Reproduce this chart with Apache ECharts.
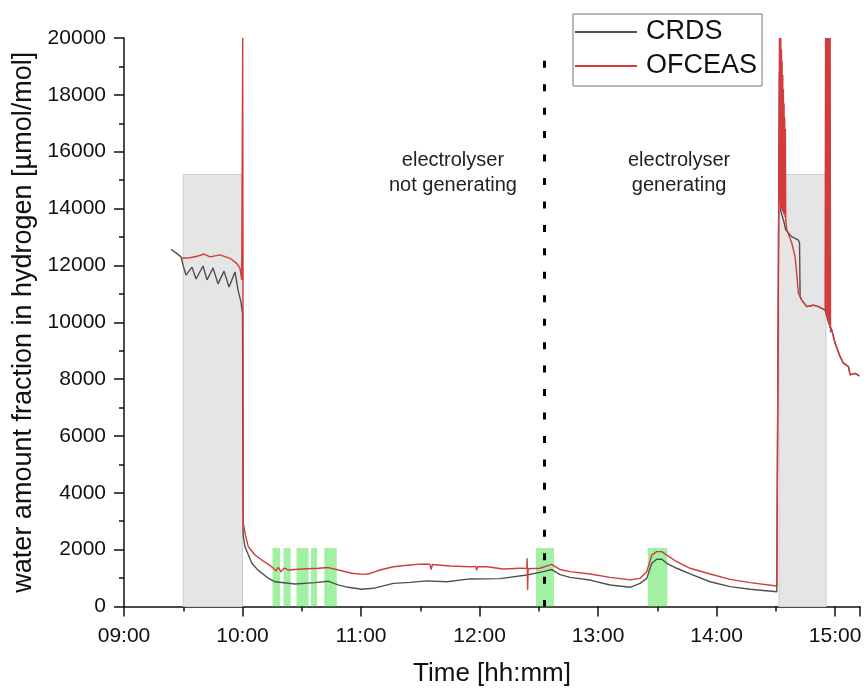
<!DOCTYPE html>
<html>
<head>
<meta charset="utf-8">
<script src="https://cdn.jsdelivr.net/npm/echarts@6/dist/echarts.min.js"></script>
<style>
html,body{margin:0;padding:0;background:#fff;}
#chart{width:866px;height:688px;}
</style>
</head>
<body>
<div id="chart"></div>
<script>
// ---- data ----
const xTickLabels = ['09:00','10:00','11:00','12:00','13:00','14:00','15:00'];

const crdsTimes = ['09:23:48','09:26:20','09:28:52','09:29:52','09:31:24','09:34:26','09:36:28','09:40:00','09:42:02','09:45:04','09:47:36','09:50:38','09:53:10','09:56:12','09:57:44','09:59:14','10:00:00','10:00:20','10:01:15','10:04:40','10:07:50','10:12:55','10:16:30','10:26:35','10:36:42','10:43:18','10:48:22','10:53:25','11:00:21','11:06:14','11:16:22','11:24:49','11:33:16','11:43:24','11:55:12','12:10:23','12:23:54','12:32:18','12:36:33','12:40:46','12:45:50','12:55:57','13:06:05','13:16:12','13:21:16','13:24:39','13:27:11','13:29:43','13:32:15','13:34:47','13:39:51','13:46:35','13:56:42','14:06:50','14:16:58','14:30:29','14:31:24','14:31:48','14:32:30','14:33:50','14:35:00','14:38:00','14:41:25','14:42:00','14:42:17','14:43:08','14:45:40','14:49:01','14:51:34','14:54:56','14:56:37','14:58:18','15:00:00','15:02:32','15:04:13','15:06:45','15:07:36','15:10:08','15:12:18'];
const crdsValues = [12570,12440,12300,12010,11660,11940,11520,11980,11490,11910,11350,11800,11240,11770,11130,10710,10300,2500,2100,1530,1280,1000,870,790,840,890,760,675,605,640,815,850,900,870,970,980,1110,1225,1300,1120,1025,930,755,675,815,990,1520,1660,1660,1520,1345,1145,870,700,605,520,520,18800,13900,13600,13250,13010,12890,12780,10900,10780,10550,10600,10550,10430,10000,9730,9260,8790,8560,8440,8150,8200,8110];

const ofceasTimes = ['09:29:13','09:33:25','09:37:00','09:40:30','09:43:33','09:48:36','09:53:40','09:57:04','09:58:44','09:59:35','10:00:06','10:00:24','10:01:00','10:01:31','10:02:56','10:06:20','10:09:43','10:14:47','10:17:00','10:18:08','10:19:30','10:21:00','10:23:11','10:30:00','10:38:25','10:43:26','10:48:30','10:55:18','11:01:10','11:04:00','11:09:37','11:16:22','11:24:49','11:29:53','11:34:56','11:35:30','11:36:10','11:45:04','11:55:12','11:58:00','11:58:30','11:59:00','12:03:39','12:12:03','12:20:30','12:23:54','12:24:05','12:24:20','12:24:35','12:30:38','12:36:33','12:40:46','12:45:50','12:55:57','13:06:05','13:16:12','13:21:16','13:24:39','13:27:11','13:29:43','13:32:15','13:34:47','13:39:51','13:46:35','13:56:42','14:06:50','14:16:58','14:30:29','14:31:24',
  '14:31:50','14:32:00','14:32:10','14:32:20','14:32:30','14:32:40','14:32:50','14:33:00','14:33:10','14:33:20','14:33:30','14:33:40','14:33:50','14:34:00','14:34:10','14:34:20','14:34:30','14:34:40','14:34:50','14:35:00',
  '14:35:32','14:38:05','14:39:43','14:40:34','14:41:25','14:43:08','14:45:40','14:49:01','14:51:34','14:54:56',
  '14:55:10','14:55:20','14:55:30','14:55:40','14:55:50','14:56:00','14:56:10','14:56:20','14:56:30','14:56:40','14:56:50','14:57:00','14:57:10','14:57:20','14:57:30','14:57:40',
  '14:58:18','15:00:00','15:02:32','15:04:13','15:06:45','15:07:36','15:10:08','15:12:18'];
const ofceasValues = [12250,12270,12320,12400,12300,12370,12250,12070,11900,11490,20000,2900,2700,2500,2100,1810,1635,1400,1250,1380,1220,1350,1285,1320,1345,1370,1285,1170,1130,1150,1285,1400,1460,1490,1485,1300,1480,1425,1400,1410,1270,1400,1400,1320,1345,1340,1700,580,1330,1345,1480,1300,1225,1145,1025,935,990,1225,1810,1930,1930,1810,1575,1345,1145,955,840,720,720,
  20000,14200,20000,14100,20000,14000,19600,14000,19200,13900,18700,13900,18200,13800,17700,13800,17200,13700,16800,13600,
  13250,12780,12310,11720,11020,10780,10550,10600,10550,10430,
  20000,10400,20000,10300,20000,10200,20000,10100,20000,10000,20000,9900,20000,9800,20000,9650,
  9730,9260,8790,8560,8440,8150,8200,8110];

// shaded (grey) periods: [start, end], top value
const greyPeriods = [['09:30:00','10:00:00'],['14:31:36','14:55:25']];
const greyTop = 15200;
// green marked periods: [start, end]
const greenPeriods = [['10:15:11','10:19:00'],['10:20:46','10:24:24'],['10:27:20','10:33:25'],['10:34:41','10:37:43'],['10:41:25','10:47:42'],['12:28:35','12:37:42'],['13:25:10','13:35:05']];
const greenTop = 2060;
// dotted marker for the change of electrolyser state
const stateChange = '12:32:50';
const stateChangeTop = 19200;
const annotations = ['electrolyser\nnot generating','electrolyser\ngenerating'];

// ---- helpers ----
function toH(s){ const p = s.split(':').map(Number); return p[0] + p[1]/60 + (p[2]||0)/3600; }
function pairs(ts, vs){ return ts.map((t,i)=>[toH(t), vs[i]]); }

const FONT = '"Liberation Sans", Arial, sans-serif';

const chart = echarts.init(document.getElementById('chart'), null, {renderer:'canvas'});
const option = {
  animation:false,
  backgroundColor:'#fff',
  textStyle:{fontFamily:FONT, color:'#111'},
  grid:{left:124, top:38, right:6, bottom:81.5, containLabel:false, outerBoundsMode:'none'},
  legend:{
    data:['CRDS','OFCEAS'],
    orient:'vertical', left:573, top:14,
    icon:'rect', itemWidth:62, itemHeight:2, itemGap:4,
    padding:[3,5,5,2],
    borderColor:'#777', borderWidth:1,
    textStyle:{fontSize:27, fontFamily:FONT, color:'#111', lineHeight:30, padding:[0,0,0,4]}
  },
  xAxis:{
    type:'value', min:9, max:15.21, interval:1,
    name:'Time [hh:mm]', nameLocation:'middle', nameGap:54,
    nameTextStyle:{fontSize:26, fontFamily:FONT, color:'#111'},
    axisLine:{show:true, lineStyle:{color:'#111', width:1.5}},
    axisTick:{show:true, inside:false, length:10, lineStyle:{color:'#111', width:1.5}},
    minorTick:{show:true, splitNumber:2, length:5, lineStyle:{color:'#111', width:1.5}},
    splitLine:{show:false},
    axisLabel:{fontSize:21, fontFamily:FONT, color:'#111', margin:19,
      formatter:v=>xTickLabels[Math.round(v-9)] || ''}
  },
  yAxis:{
    type:'value', min:0, max:20000, interval:2000,
    name:'water amount fraction in hydrogen [µmol/mol]', nameLocation:'middle', nameGap:78,
    nameTextStyle:{fontSize:27, fontFamily:FONT, color:'#111'},
    axisLine:{show:true, lineStyle:{color:'#111', width:1.5}},
    axisTick:{show:true, inside:false, length:10, lineStyle:{color:'#111', width:1.5}},
    minorTick:{show:true, splitNumber:2, length:5, lineStyle:{color:'#111', width:1.5}},
    splitLine:{show:false},
    axisLabel:{fontSize:21, fontFamily:FONT, color:'#111', margin:18, formatter:v=>String(v)}
  },
  series:[
    {
      name:'grey', type:'line', data:[], z:1, silent:true,
      markArea:{silent:true,
        itemStyle:{color:'#e5e5e5', borderColor:'#cccccc', borderWidth:1},
        data: greyPeriods.map(p=>[{xAxis:toH(p[0]), yAxis:0},{xAxis:toH(p[1]), yAxis:greyTop}])
      }
    },
    {
      name:'CRDS', type:'line', data:pairs(crdsTimes, crdsValues), z:3,
      symbol:'none', showSymbol:false, smooth:false,
      lineStyle:{color:'#505050', width:1.4}, itemStyle:{color:'#505050'}
    },
    {
      name:'OFCEAS', type:'line', data:pairs(ofceasTimes, ofceasValues), z:4,
      symbol:'none', showSymbol:false, smooth:false,
      lineStyle:{color:'#d23c3c', width:1.4}, itemStyle:{color:'#d23c3c'}
    },
    {
      name:'state', type:'line', data:[], z:5, silent:true,
      markLine:{silent:true, symbol:['none','none'], label:{show:false},
        lineStyle:{color:'#000', width:3, type:[7,16.45]},
        data:[[{coord:[toH(stateChange), stateChangeTop]},{coord:[toH(stateChange), 0]}]]
      }
    },
    {
      name:'green', type:'line', data:[], z:6, silent:true,
      markArea:{silent:true,
        itemStyle:{color:'rgba(70,225,70,0.5)'},
        data: greenPeriods.map(p=>[{xAxis:toH(p[0]), yAxis:0},{xAxis:toH(p[1]), yAxis:greenTop}])
      }
    }
  ],
  graphic: annotations.map((a,i)=>({
    type:'text', left: [389,628][i], top:147.5, silent:true,
    style:{text:a, x:0, y:0, fill:'#222', font:'20px ' + FONT, lineHeight:25, align:'center', textAlign:'center'}
  }))
};
chart.setOption(option);
</script>
</body>
</html>
